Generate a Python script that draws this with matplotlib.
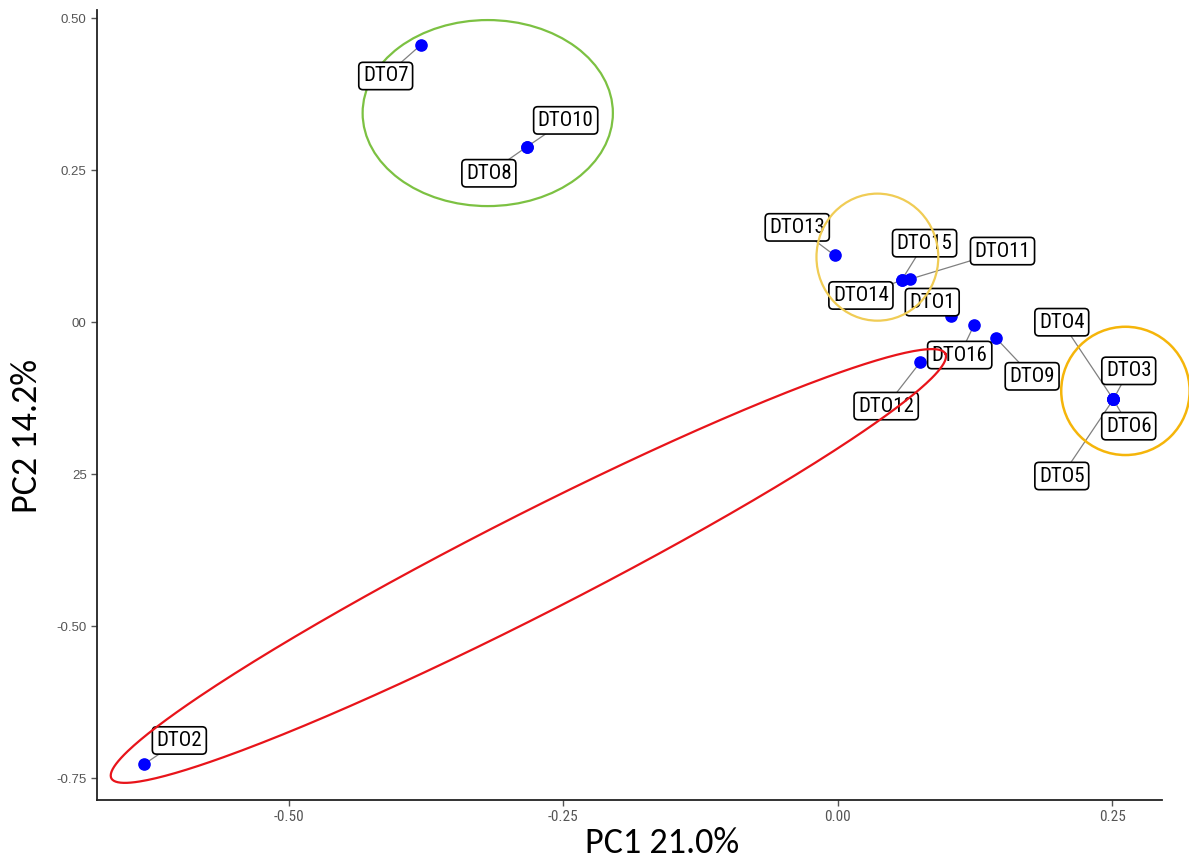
import numpy as np
import matplotlib
matplotlib.use("Agg")
import matplotlib.pyplot as plt
from matplotlib.patches import Ellipse

# PCA scores
samples = ["DTO1", "DTO2", "DTO3", "DTO4", "DTO5", "DTO6", "DTO7", "DTO8",
           "DTO9", "DTO10", "DTO11", "DTO12", "DTO13", "DTO14", "DTO15", "DTO16"]
pc1 = [0.103, -0.632, 0.251, 0.251, 0.251, 0.251, -0.380, -0.283,
       0.144, -0.283, 0.066, 0.075, -0.003, 0.058, 0.058, 0.124]
pc2 = [0.010, -0.727, -0.127, -0.127, -0.127, -0.127, 0.456, 0.289,
       -0.026, 0.289, 0.071, -0.066, 0.110, 0.069, 0.069, -0.005]

x_ticks = [-0.50, -0.25, 0.00, 0.25]
x_ticklabels = ["-0.50", "-0.25", "0.00", "0.25"]
y_ticks = [0.50, 0.25, 0.00, -0.25, -0.50, -0.75]
y_ticklabels = ["0.50", "0.25", "00", "25", "-0.50", "-0.75"]

# repelled label positions (layout only)
label_pos = {
    "DTO1": (0.086, 0.033), "DTO2": (-0.600, -0.688), "DTO3": (0.265, -0.080),
    "DTO4": (0.204, 0.000), "DTO5": (0.204, -0.253), "DTO6": (0.265, -0.171),
    "DTO7": (-0.412, 0.405), "DTO8": (-0.318, 0.245), "DTO9": (0.177, -0.089),
    "DTO10": (-0.248, 0.332), "DTO11": (0.150, 0.117), "DTO12": (0.044, -0.138),
    "DTO13": (-0.037, 0.156), "DTO14": (0.021, 0.044), "DTO15": (0.079, 0.130),
    "DTO16": (0.111, -0.054),
}

narrow = ["Roboto Condensed", "Liberation Sans", "DejaVu Sans"]
arial = ["Liberation Sans", "DejaVu Sans"]
calibri = ["Carlito", "Lato", "DejaVu Sans"]

fig = plt.figure(figsize=(11.89, 8.61), dpi=100)
ax = fig.add_axes([0.0816, 0.0708, 0.8954, 0.9172])
ax.set_xlim(-0.675, 0.295)
ax.set_ylim(-0.786, 0.513)

ax.scatter(pc1, pc2, s=65, color="#0000FF", zorder=4)

for name, x, y in zip(samples, pc1, pc2):
    lx, ly = label_pos[name]
    ax.plot([x, lx], [y, ly], color="#808080", lw=0.9, zorder=3)
    ax.text(lx, ly, name, ha="center", va="center", fontsize=15, family=narrow,
            color="black", zorder=5,
            bbox=dict(boxstyle="round,pad=0.2,rounding_size=0.2",
                      fc="white", ec="black", lw=1.2))

# group ellipses
ax.add_patch(Ellipse((-0.319, 0.344), 0.228, 0.306, fill=False,
                     ec="#7CC142", lw=1.6, zorder=2))
ax.add_patch(Ellipse((0.036, 0.107), 0.111, 0.209, fill=False,
                     ec="#F0CC55", lw=1.6, zorder=6))
ax.add_patch(Ellipse((0.262, -0.113), 0.117, 0.211, fill=False,
                     ec="#F5B50A", lw=1.8, zorder=6, clip_on=False))

# tilted red ellipse (built in data units)
t = np.linspace(0, 2 * np.pi, 400)
cx, cy = -0.282, -0.401
ux, uy = 0.380, 0.349
vx, vy = 0.0198, -0.0740
ex = cx + ux * np.cos(t) + vx * np.sin(t)
ey = cy + uy * np.cos(t) + vy * np.sin(t)
ax.plot(ex, ey, color="#E8141A", lw=1.6, zorder=6)

for s in ["top", "right"]:
    ax.spines[s].set_visible(False)
for s in ["left", "bottom"]:
    ax.spines[s].set_color("#222222")
    ax.spines[s].set_linewidth(1.3)

ax.set_xticks(x_ticks)
ax.set_xticklabels(x_ticklabels, family=narrow, fontsize=11, color="#555555")
ax.set_yticks(y_ticks)
ax.set_yticklabels(y_ticklabels, family=arial, fontsize=9.5, color="#555555")
ax.tick_params(length=4, color="#555555", width=1)

fig.text(0.557, 0.021, "PC1 21.0%", ha="center", va="center",
         fontsize=26, family=calibri)
fig.text(0.023, 0.494, "PC2 14.2%", ha="center", va="center",
         fontsize=26, family=calibri, rotation=90)

fig.savefig("out.png", dpi=100)
